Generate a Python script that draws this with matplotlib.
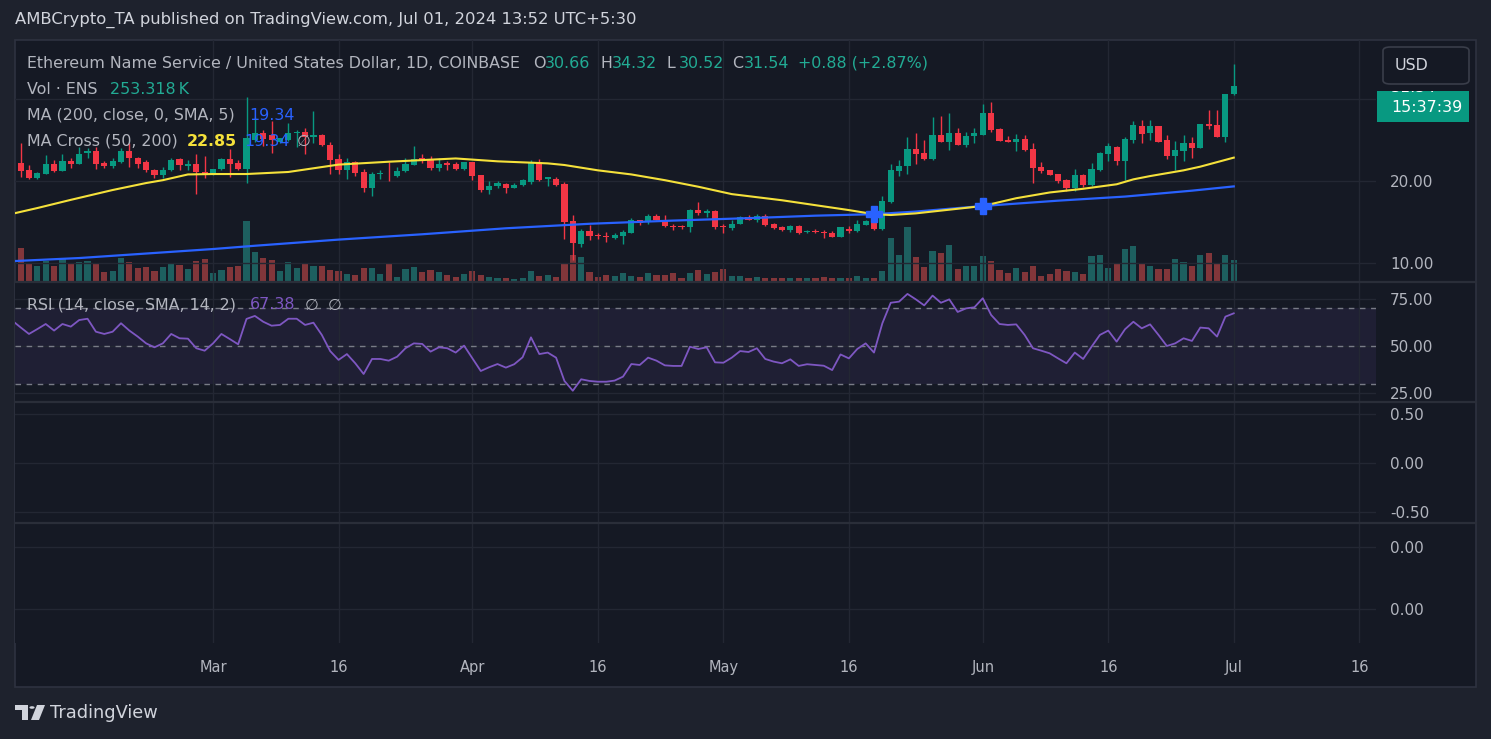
import matplotlib.pyplot as plt
import matplotlib.dates as mdates
from matplotlib.patches import Rectangle, FancyBboxPatch, Polygon, Circle
import numpy as np
import pandas as pd

# ENS / USD daily candles, Feb 6 - Jul 1 2024
dates = pd.date_range('2024-02-06', '2024-07-01', freq='D')

opens = [20.2, 22.15, 21.33, 20.33, 20.89, 22.03, 21.26, 22.44, 22.11, 23.37, 23.66, 22.2, 21.87, 22.36,
         23.66, 22.85, 22.36, 21.34, 20.73, 21.34, 22.68, 21.87, 22.03, 21.10,
         20.81, 21.46, 22.68, 22.2, 21.46, 24.97, 25.8, 25.6, 24.8, 25.0, 25.9, 26.0, 25.4, 25.6, 24.4,
         22.7, 21.4, 22.3, 21.1, 19.2, 20.85, 20.9, 20.6, 21.2, 22.0, 22.75, 22.6, 21.6, 22.2, 22.1, 21.45,
         22.3, 20.7, 18.9, 19.4, 19.63, 19.19, 19.51, 19.87, 22.36, 20.2, 20.3, 19.63, 15.1, 12.35, 13.9,
         13.45, 13.3, 13.05, 13.3, 13.7, 15.24, 14.97, 15.7, 15.3, 14.5, 14.5, 14.4, 16.5, 16.1, 16.4,
         14.45, 14.3, 14.8, 15.6, 15.3, 15.7, 14.7, 14.35, 13.98, 14.47, 13.78, 13.88, 13.8, 13.66, 13.17,
         14.2, 13.86, 14.65, 15.1, 14.15, 17.48, 21.2, 21.83, 23.9, 23.4, 22.7, 25.6, 24.8, 25.9, 24.4, 25.5,
         25.6, 28.33, 26.35, 25.0, 24.78, 25.13, 23.9, 21.7, 21.35, 20.85, 20.1, 19.2, 20.7, 19.5, 21.34,
         23.3, 24.1, 22.4, 25.0, 26.75, 25.8, 26.7, 24.95, 23.1, 23.7, 24.6, 24.0, 26.9, 26.8, 25.32,
         30.66]
highs = [22.3, 24.59, 21.94, 21.1, 23.17, 22.56, 23.25, 22.85, 24.19, 23.98, 24.19, 22.44, 22.76, 23.98,
         24.59, 22.97, 22.56, 21.46, 21.75, 22.76, 22.85, 22.56, 23.25, 23.09,
         21.5, 22.76, 23.9, 22.56, 30.28, 27.8, 26.2, 27.3, 25.3, 27.1, 26.2, 26.5, 28.57, 25.7, 24.7,
         23.3, 22.8, 22.5, 21.5, 21.1, 21.4, 22.3, 21.7, 22.8, 24.3, 23.3, 23.0, 22.8, 22.4, 22.35, 22.35,
         22.35, 20.7, 20.0, 20.0, 19.7, 19.7, 20.2, 22.56, 22.68, 20.5, 20.45, 19.9, 15.9, 14.17, 14.6,
         13.7, 13.8, 13.7, 14.0, 15.45, 15.3, 16.0, 16.0, 15.9, 14.7, 14.65, 16.6, 17.4, 16.6, 16.5,
         14.8, 15.2, 15.7, 15.85, 15.95, 15.95, 14.9, 14.5, 14.6, 14.6, 14.0, 14.1, 14.0, 13.86, 14.4,
         14.5, 15.2, 15.2, 15.45, 18.2, 22.07, 22.55, 25.4, 25.9, 25.0, 27.8, 27.9, 28.3, 26.5, 26.0, 26.5,
         29.4, 29.67, 26.5, 25.5, 25.74, 25.6, 24.6, 22.3, 21.4, 20.9, 20.2, 21.46, 20.9, 22.24, 23.57,
         24.58, 24.3, 25.4, 27.3, 27.4, 27.4, 26.7, 25.6, 24.9, 25.6, 25.36, 27.0, 28.7, 28.7, 30.6,
         34.32]
lows = [20.0, 20.52, 20.24, 20.3, 20.8, 21.14, 21.22, 21.63, 22.03, 22.85, 21.46, 21.63, 21.54, 22.2,
        21.75, 21.54, 21.14, 20.41, 20.41, 21.22, 21.34, 21.34, 18.45, 20.41,
        20.73, 21.38, 20.53, 21.34, 19.8, 24.8, 24.3, 23.4, 24.6, 24.9, 24.2, 23.3, 24.6, 24.3, 20.8,
        20.8, 20.2, 20.6, 18.7, 18.2, 20.2, 20.0, 20.5, 21.1, 21.9, 22.2, 21.4, 21.2, 21.4, 21.4, 21.4,
        20.1, 18.7, 18.4, 19.1, 18.58, 19.1, 19.45, 19.6, 20.0, 19.4, 19.4, 12.9, 10.35, 11.98, 12.8,
        12.9, 12.6, 12.9, 12.3, 13.6, 14.63, 14.8, 15.2, 14.35, 14.0, 14.1, 13.8, 15.9, 15.6, 14.1,
        13.7, 14.0, 14.7, 15.2, 15.05, 14.5, 14.15, 13.86, 13.8, 13.5, 13.7, 13.62, 13.1, 13.13, 13.13,
        13.7, 13.8, 14.6, 14.0, 14.0, 17.36, 20.6, 20.9, 22.1, 22.6, 22.6, 24.7, 23.75, 24.4, 24.2, 24.6,
        25.6, 26.0, 24.9, 24.75, 23.7, 23.66, 19.8, 21.0, 20.7, 19.8, 18.8, 18.73, 19.3, 19.4, 21.2,
        22.4, 21.9, 20.1, 24.6, 24.6, 25.0, 24.7, 22.7, 21.3, 22.4, 22.8, 24.0, 26.3, 25.4, 24.8,
        30.52]
closes = [22.1, 21.22, 20.33, 20.97, 22.03, 21.22, 22.44, 22.11, 23.25, 23.66, 22.07, 21.87, 22.44, 23.66,
          22.76, 22.07, 21.30, 20.73, 21.34, 22.56, 21.95, 22.03, 21.06, 20.81,
          21.46, 22.68, 22.11, 21.46, 25.2, 25.82, 25.1, 25.0, 25.2, 25.9, 26.0, 25.4, 25.6, 24.4, 22.6,
          21.4, 22.3, 21.0, 19.2, 20.9, 20.95, 20.8, 21.2, 22.1, 22.7, 22.6, 21.6, 22.1, 22.0, 21.45, 22.3,
          20.6, 18.9, 19.4, 19.8, 19.19, 19.51, 20.12, 22.36, 20.12, 20.45, 19.5, 15.04, 12.47, 13.9, 13.3,
          13.35, 13.2, 13.37, 13.8, 15.24, 14.9, 15.7, 15.3, 14.5, 14.4, 14.4, 16.5, 16.1, 16.4, 14.4,
          14.35, 14.8, 15.6, 15.3, 15.7, 14.65, 14.3, 13.98, 14.47, 13.66, 13.86, 13.8, 13.7, 13.17, 14.35,
          13.86, 14.76, 15.1, 14.15, 17.56, 21.34, 21.83, 23.9, 23.3, 22.7, 25.6, 24.8, 25.9, 24.4, 25.5, 25.8,
          28.33, 26.2, 24.9, 24.75, 25.13, 23.78, 21.6, 21.2, 20.73, 20.0, 19.2, 20.7, 19.5, 21.46, 23.4,
          24.26, 22.4, 25.1, 26.8, 25.7, 26.7, 24.8, 23.1, 23.78, 24.6, 24.0, 26.9, 26.66, 25.4, 30.66,
          31.54]
volume_k = [480, 396, 204, 180, 240, 180, 264, 204, 228, 240, 204, 108, 120, 276, 228, 156, 168, 120,
            168, 204, 192, 144, 240, 264,
            96, 132, 168, 180, 720, 348, 276, 252, 120, 228, 156, 204, 180, 180, 132, 120, 84, 72, 156,
            156, 84, 204, 48, 144, 168, 108, 132, 108, 72, 48, 84,
            120, 72, 48, 36, 36, 24, 36, 120, 60, 72, 48, 204, 312, 288, 108, 48, 72, 60, 96, 60, 48, 96,
            72, 72, 96, 36, 96, 132, 84, 108,
            144, 60, 60, 36, 48, 36, 36, 36, 36, 36, 36, 36, 48, 36, 36, 36, 60, 36, 36, 120, 516, 312,
            648, 288, 168, 360, 336, 432, 144, 180, 180,
            300, 240, 132, 96, 156, 108, 180, 60, 84, 144, 120, 108, 84, 300, 312, 156, 204, 384, 420, 216,
            180, 144, 144, 264, 228, 180, 312, 336, 204, 312,
            253.3]
rsi = [63.5, 59.9, 56.4, 59.0, 61.7, 58.2, 61.7, 60.3, 63.8, 64.5,
       57.6, 56.4, 57.6, 62.1, 58.2, 55.0, 51.4, 49.3, 51.4, 56.4,
       54.1, 53.9, 48.8, 47.5, 51.4, 56.4, 53.7, 50.9, 64.4, 66.0,
       62.9, 60.8, 61.2, 64.5, 64.5, 61.2, 62.4, 55.9, 47.3, 42.6,
       45.7, 40.8, 35.1, 43.1, 43.1, 42.2, 44.3, 48.8, 51.4, 51.1,
       47.0, 49.3, 48.8, 46.5, 50.2, 43.4, 36.7, 38.7, 40.4, 38.5,
       40.3, 44.0, 54.6, 45.7, 46.5, 43.8, 31.4, 26.2, 32.3, 31.4,
       31.0, 31.0, 31.6, 33.7, 40.4, 39.9, 43.8, 42.2, 39.7, 39.4,
       39.4, 49.6, 48.4, 49.3, 41.3, 41.1, 43.8, 47.3, 46.8, 48.8,
       43.1, 41.7, 40.8, 42.9, 39.4, 40.3, 39.9, 39.5, 37.2, 45.5,
       43.4, 48.4, 51.4, 46.5, 62.1, 73.0, 73.6, 77.7, 74.8, 71.6,
       76.8, 73.0, 74.8, 68.1, 70.0, 70.6, 75.4, 66.5, 61.7, 61.2,
       61.5, 55.9, 48.8, 47.5, 46.1, 43.4, 40.8, 46.5, 43.1, 49.6,
       55.9, 58.2, 52.3, 58.9, 62.9, 59.4, 61.5, 55.9, 50.0, 51.4,
       54.1, 52.7, 59.8, 59.4, 55.0, 65.6, 67.38]

ma50_dates = ['2024-02-06', '2024-02-09', '2024-02-13', '2024-02-18', '2024-02-22', '2024-02-24',
              '2024-02-27', '2024-03-01', '2024-03-05', '2024-03-10', '2024-03-14', '2024-03-16',
              '2024-03-22', '2024-03-26', '2024-03-30', '2024-04-04', '2024-04-10', '2024-04-12',
              '2024-04-16', '2024-04-20', '2024-04-24', '2024-04-28', '2024-05-02', '2024-05-08',
              '2024-05-12', '2024-05-16', '2024-05-19', '2024-05-21', '2024-05-24', '2024-05-28',
              '2024-06-01', '2024-06-05', '2024-06-09', '2024-06-13', '2024-06-17', '2024-06-19',
              '2024-06-21', '2024-06-25', '2024-06-27', '2024-07-01']
ma50_vals = [16.0, 16.7, 17.7, 18.9, 19.75, 20.1, 20.8, 20.85, 20.85, 21.1, 21.7, 22.0, 22.35, 22.55,
             22.75, 22.4, 22.15, 21.95, 21.3, 20.8, 20.1, 19.3, 18.4, 17.65, 17.05, 16.45, 15.95, 15.85,
             16.05, 16.5, 16.95, 17.9, 18.6, 19.05, 19.6, 20.2, 20.6, 21.3, 21.75, 22.85]
ma200_dates = ['2024-02-06', '2024-02-14', '2024-02-22', '2024-03-01', '2024-03-06', '2024-03-16',
               '2024-03-26', '2024-04-05', '2024-04-15', '2024-04-25', '2024-05-05', '2024-05-12',
               '2024-05-19', '2024-05-24', '2024-06-01', '2024-06-10', '2024-06-18', '2024-06-26',
               '2024-07-01']
ma200_vals = [10.22, 10.6, 11.15, 11.7, 12.1, 12.85, 13.5, 14.23, 14.78, 15.17, 15.5, 15.77, 15.95,
              16.27, 16.95, 17.6, 18.1, 18.82, 19.34]
cross_dates = ['2024-05-19', '2024-06-01']
cross_vals = [15.94, 16.99]

tick_dates = ['2024-03-01', '2024-03-16', '2024-04-01', '2024-04-16', '2024-05-01', '2024-05-16',
              '2024-06-01', '2024-06-16', '2024-07-01', '2024-07-16']
tick_labels = ['Mar', '16', 'Apr', '16', 'May', '16', 'Jun', '16', 'Jul', '16']

# colours
BG_OUT = '#1e222d'
BG = '#151924'
GRID = '#232733'
SEP = '#2a2e39'
TXT = '#b2b5be'
HEAD = '#d1d4dc'
UP = '#089981'
DN = '#f23645'
GREEN_TXT = '#22ab94'
YELLOW = '#f5e13b'
BLUE = '#2962ff'
PURPLE = '#7e57c2'

W, H = 1491, 739
plt.rcParams['font.family'] = ['DejaVu Sans']
FS = 11.4


def fx(px):
    return px / W


def fy(py):
    return 1 - py / H


def axrect(x0, y0, x1, y1):
    return [fx(x0), fy(y1), (x1 - x0) / W, (y1 - y0) / H]


fig = plt.figure(figsize=(W / 100, H / 100), dpi=100, facecolor=BG_OUT)
fig.add_artist(Rectangle((fx(15), fy(687)), (1476 - 15) / W, (687 - 40) / H, transform=fig.transFigure,
                         facecolor=BG, edgecolor='#2e3240', lw=1.2, zorder=-5))

x = mdates.date2num(dates)
x_mar1 = mdates.date2num(pd.Timestamp('2024-03-01'))
xlim = (x_mar1 - 23.67, x_mar1 + 139.0)
ticks_x = mdates.date2num(pd.to_datetime(tick_dates))

ax_p = fig.add_axes(axrect(15, 40, 1376, 281))
ax_v = ax_p.twinx()
ax_r = fig.add_axes(axrect(15, 282, 1376, 401))
ax_3 = fig.add_axes(axrect(15, 402, 1376, 522))
ax_4 = fig.add_axes(axrect(15, 523, 1376, 643))

for a in [ax_p, ax_v, ax_r, ax_3, ax_4]:
    a.set_xlim(*xlim)
    for s in a.spines.values():
        s.set_visible(False)
    a.set_facecolor(BG)
    a.tick_params(axis='both', length=0, colors=TXT, labelsize=11)
    a.set_xticks(ticks_x)
    a.set_xticklabels([])

for a in [ax_p, ax_r, ax_3, ax_4]:
    a.grid(True, color=GRID, lw=1)
    a.yaxis.tick_right()
    a.tick_params(axis='y', pad=10)

# volume behind candles
ax_p.set_zorder(ax_v.get_zorder() + 1)
ax_p.patch.set_visible(False)
opens_a = np.array(opens)
closes_a = np.array(closes)
up = closes_a >= opens_a
vol_colors = np.where(up, '#26a69a', '#ef5350')
ax_v.bar(x, volume_k, width=0.74, color=vol_colors, alpha=0.5, linewidth=0)
ax_v.set_ylim(0, 2892)
ax_v.set_yticks([])
ax_v.grid(False)

# candles
c_colors = np.where(up, UP, DN)
ax_p.vlines(x, lows, highs, colors=c_colors, lw=1.0, zorder=3)
body_bottom = np.minimum(opens_a, closes_a)
body_h = np.maximum(np.abs(closes_a - opens_a), 0.1)
ax_p.bar(x, body_h, bottom=body_bottom, width=0.74, color=c_colors, linewidth=0, zorder=4)

# moving averages
ax_p.plot(mdates.date2num(pd.to_datetime(ma200_dates)), ma200_vals, color=BLUE, lw=1.6, zorder=5)
ax_p.plot(mdates.date2num(pd.to_datetime(ma50_dates)), ma50_vals, color=YELLOW, lw=1.5, zorder=5)
ax_p.plot(mdates.date2num(pd.to_datetime(cross_dates)), cross_vals, 'P', ms=11.5, color=BLUE,
          mec=BLUE, zorder=6)

ax_p.set_ylim(7.80, 37.2)
ax_p.set_yticks([10, 20, 30])
# the 30.00 label sits under the last-price box, so only its grid line shows
ax_p.set_yticklabels(['10.00', '20.00', ''])

# RSI pane
ax_r.axhspan(30, 70, color=PURPLE, alpha=0.1, lw=0)
for lvl in [70, 50, 30]:
    ax_r.axhline(lvl, color='#787b86', lw=1, ls=(0, (4, 4)), zorder=2)
ax_r.plot(x, rsi, color=PURPLE, lw=1.3, zorder=3)
ax_r.set_ylim(20.74, 84.04)
ax_r.set_yticks([25, 50, 75])
ax_r.set_yticklabels(['25.00', '50.00', '75.00'])

# empty indicator panes
ax_3.set_ylim(-0.602, 0.622)
ax_3.set_yticks([-0.5, 0, 0.5])
ax_3.set_yticklabels(['-0.50', '0.00', '0.50'])
ax_4.set_ylim(0, 1)
ax_4.set_yticks([0.283, 0.8])
ax_4.set_yticklabels(['0.00', '0.00'])
ax_4.set_xticklabels(tick_labels)
ax_4.tick_params(axis='x', pad=12, labelsize=10.5)

# pane separators
for yy in [281.5, 401.5, 522.5]:
    fig.add_artist(plt.Line2D([fx(15), fx(1476)], [fy(yy), fy(yy)], transform=fig.transFigure,
                              color=SEP, lw=1.6))

# legend texts


def label(px, py, s, color=TXT, size=FS, **kw):
    fig.text(fx(px), fy(py), s, color=color, fontsize=size, va='center', ha='left', zorder=10, **kw)


label(15, 20, 'AMBCrypto_TA published on TradingView.com, Jul 01, 2024 13:52 UTC+5:30', HEAD, 11.8)

label(27, 63, 'Ethereum Name Service / United States Dollar, 1D, COINBASE', TXT)
for px, k, v in [(533, 'O', '30.66'), (600, 'H', '34.32'), (667, 'L', '30.52'), (732, 'C', '31.54')]:
    label(px, 63, k, TXT)
    label(px + 12, 63, v, GREEN_TXT)
label(798, 63, '+0.88 (+2.87%)', GREEN_TXT)

label(27, 89, 'Vol \u00b7 ENS', TXT)
label(110, 89, '253.318\u2009K', GREEN_TXT)
label(27, 115, 'MA (200, close, 0, SMA, 5)', TXT)
label(249, 115, '19.34', BLUE)
label(27, 141, 'MA Cross (50, 200)', TXT)
label(187, 141, '22.85', YELLOW, weight='bold')
label(244, 141, '19.34', BLUE)
label(297, 141, '\u2205', TXT)

label(27, 305, 'RSI (14, close, SMA, 14, 2)', TXT)
label(250, 305, '67.38', PURPLE)
label(305, 305, '\u2205', TXT)
label(328, 305, '\u2205', TXT)

# price scale widgets
fig.add_artist(FancyBboxPatch((fx(1383), fy(84)), (1469 - 1383) / W, (84 - 47) / H,
                              boxstyle='round,pad=0,rounding_size=0.005', transform=fig.transFigure,
                              facecolor=BG, edgecolor='#3a3e4a', lw=1.2, zorder=8))
fig.text(fx(1412), fy(66), 'USD', color=HEAD, fontsize=FS, ha='center', va='center', zorder=9)

# last price label: its own small axes so the cut-off price text is clipped to the box
ax_lbl = fig.add_axes(axrect(1377, 91, 1469, 122))
ax_lbl.set_zorder(5)
ax_lbl.set_facecolor(UP)
ax_lbl.set_xticks([])
ax_lbl.set_yticks([])
for s in ax_lbl.spines.values():
    s.set_visible(False)
ax_lbl.set_xlim(1377, 1469)
ax_lbl.set_ylim(122, 91)
ax_lbl.text(1391, 87, '31.54', color='white', fontsize=FS, ha='left', va='center', clip_on=True)
ax_lbl.text(1391, 108, '15:37:39', color='white', fontsize=FS, ha='left', va='center', clip_on=True)

# TradingView logo
fig.add_artist(Polygon([(fx(15), fy(705)), (fx(28), fy(705)), (fx(28), fy(720)), (fx(22), fy(720)),
                        (fx(22), fy(710)), (fx(15), fy(710))], closed=True, transform=fig.transFigure,
                       facecolor=HEAD, edgecolor='none'))
fig.add_artist(Circle((fx(32), fy(707.5)), 2.6 / W, transform=fig.transFigure, facecolor=HEAD,
                      edgecolor='none'))
fig.add_artist(Polygon([(fx(37), fy(705)), (fx(45), fy(705)), (fx(39), fy(720)), (fx(31), fy(720))],
                       closed=True, transform=fig.transFigure, facecolor=HEAD, edgecolor='none'))
fig.text(fx(50), fy(713), 'TradingView', color=HEAD, fontsize=12.8, weight='medium', ha='left',
         va='center')

fig.savefig('out.png', dpi=100, facecolor=BG_OUT)
